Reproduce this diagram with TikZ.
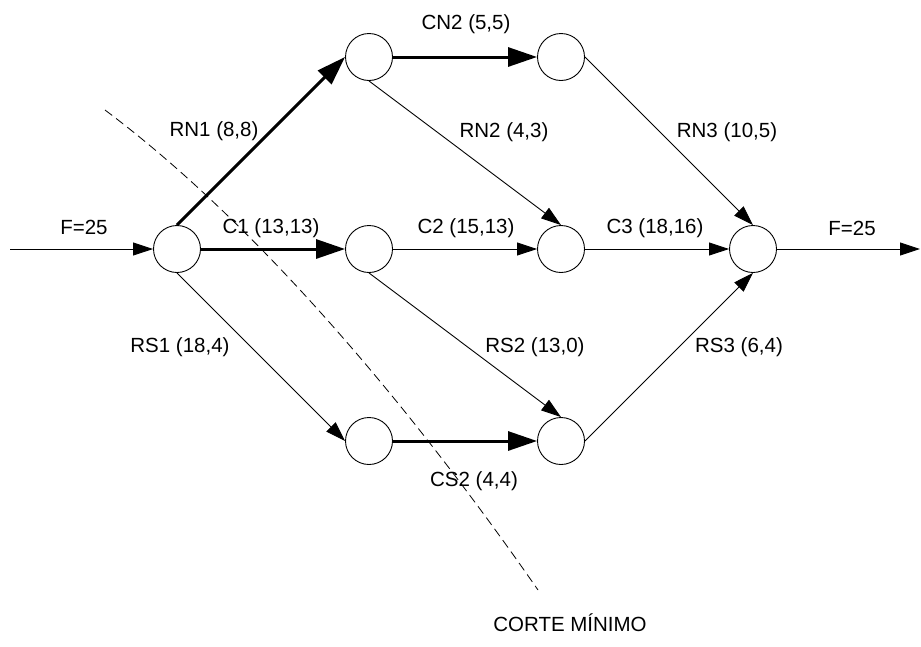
\documentclass[tikz,border=0pt]{standalone}
\usepackage{fontspec}
\setmainfont{Liberation Sans}
\usetikzlibrary{arrows.meta}
\begin{document}
\begin{tikzpicture}[x=1pt,y=-1pt,
  vertex/.style={circle,draw,line width=0.9pt,minimum size=47pt,inner sep=0pt,fill=white},
  flow/.style={line width=0.9pt,-{Triangle[length=20pt,width=13pt]}},
  satflow/.style={line width=3pt,-{Triangle[length=29pt,width=19pt]}},
  lbl/.style={font=\fontsize{20.5}{24}\selectfont,inner sep=0pt},
  cutline/.style={line width=0.8pt,dash pattern=on 9pt off 5pt}]
\useasboundingbox (0,0) rectangle (921,646);

% minimum cut
\coordinate (cutS) at (105,110);
\coordinate (cutE) at (538,590);
\draw[cutline] (cutS) .. controls (265,230) and (420,420) .. (cutE);

% vertices
\node[vertex] (A)  at (177,249) {};
\node[vertex] (N1) at (369,57)  {};
\node[vertex] (N2) at (561,57)  {};
\node[vertex] (M1) at (369,249) {};
\node[vertex] (M2) at (561,249) {};
\node[vertex] (T)  at (753,249) {};
\node[vertex] (S1) at (369,441) {};
\node[vertex] (S2) at (561,441) {};

\coordinate (src) at (10,249);
\coordinate (snk) at (920,249);

% arcs
\draw[flow] (src) -- (A.west);
\draw[flow] (T.east) -- (snk);
\draw[satflow] (A.north) -- (N1.west);
\draw[satflow] (A.east) -- (M1.west);
\draw[flow] (A.south) -- (S1.west);
\draw[satflow] (N1.east) -- (N2.west);
\draw[flow] (N1.south) -- (M2.north);
\draw[flow] (M1.east) -- (M2.west);
\draw[flow] (M1.south) -- (S2.north);
\draw[satflow] (S1.east) -- (S2.west);
\draw[flow] (N2.east) -- (T.north);
\draw[flow] (M2.east) -- (T.west);
\draw[flow] (S2.east) -- (T.south);

% labels
\node[lbl] (lF1)  at (84,227)  {F=25};
\node[lbl] (lRN1) at (214,131) {RN1 (8,8)};
\node[lbl] (lCN2) at (466,24)  {CN2 (5,5)};
\node[lbl] (lRN2) at (504,132) {RN2 (4,3)};
\node[lbl] (lRN3) at (727,132) {RN3 (10,5)};
\node[lbl] (lC1)  at (271,228) {C1 (13,13)};
\node[lbl] (lC2)  at (466,228) {C2 (15,13)};
\node[lbl] (lC3)  at (655,228) {C3 (18,16)};
\node[lbl] (lF2)  at (852,228) {F=25};
\node[lbl] (lRS1) at (180,347) {RS1 (18,4)};
\node[lbl] (lRS2) at (535,347) {RS2 (13,0)};
\node[lbl] (lRS3) at (739,347) {RS3 (6,4)};
\node[lbl] (lCS2) at (474,481) {CS2 (4,4)};
\node[lbl] (lcut) at (570,623) {CORTE MÍNIMO};
\end{tikzpicture}
\end{document}
